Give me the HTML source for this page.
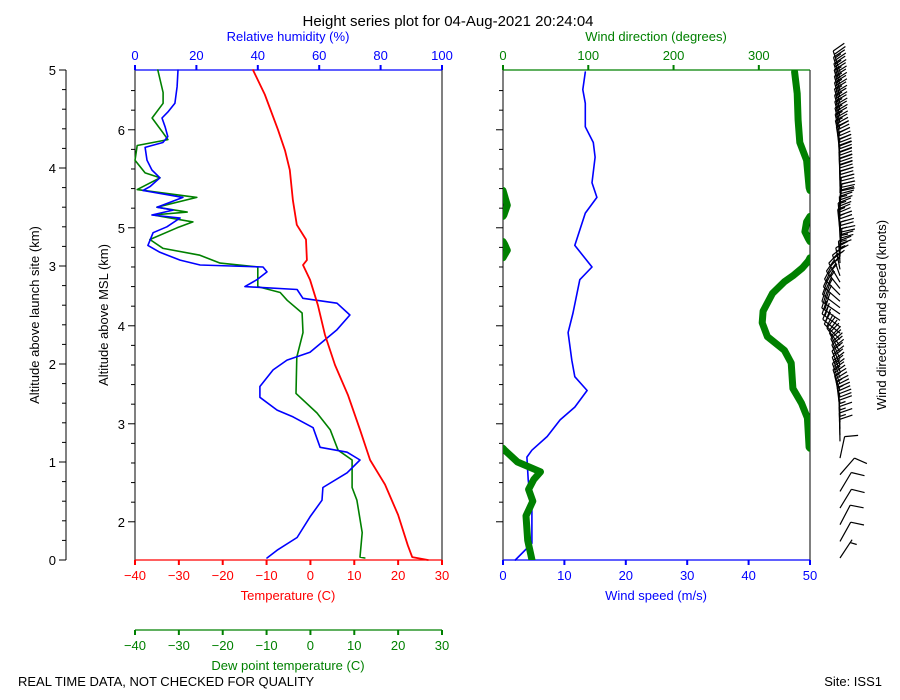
<!DOCTYPE html>
<html><head><meta charset="utf-8"><style>
html,body{margin:0;padding:0;background:#fff}
svg{display:block;font-family:"Liberation Sans","DejaVu Sans",sans-serif}
</style></head><body>
<svg id="chart" width="900" height="700" viewBox="0 0 900 700">
<text x="448" y="26" font-size="15" text-anchor="middle">Height series plot for 04-Aug-2021 20:24:04</text>
<text x="18" y="686" font-size="13">REAL TIME DATA, NOT CHECKED FOR QUALITY</text>
<text x="882" y="686" font-size="13" text-anchor="end">Site: ISS1</text>
<g id="g"></g>
</svg>
<script>
// ---- data (altitude above launch site, km) ----
const tempAlt=[0,0.03,0.15,0.46,0.77,1.02,1.33,1.68,1.99,2.30,2.60,2.86,3.01,3.06,3.27,3.42,3.67,3.98,4.18,4.39,4.75,5.0];
const tempVal=[26.8,23.2,22.2,20.0,17.0,13.6,11.3,8.6,5.6,3.3,1.7,-0.1,-1.7,-0.8,-1.0,-3.1,-4.0,-4.7,-5.8,-7.4,-10.4,-13.1];
const dewAlt=[0.02,0.03,0.28,0.61,0.74,1.02,1.12,1.33,1.50,1.70,2.07,2.32,2.52,2.65,2.73,2.79,2.99,3.03,3.11,3.18,3.27,3.39,3.45,3.52,3.55,3.60,3.70,3.78,3.90,3.95,4.08,4.23,4.29,4.37,4.51,4.66,4.77,5.0];
const dewVal=[12.4,11.3,11.8,10.6,9.5,9.5,6.3,4.5,1.5,-3.3,-3.1,-1.7,-1.9,-5.3,-6.9,-12.0,-12.0,-20.6,-25.2,-33.6,-36.6,-30.4,-26.8,-35.9,-28.1,-35.0,-25.9,-39.5,-34.3,-37.7,-40,-39.5,-32.5,-33.8,-36.1,-33.6,-33.6,-34.8];
const rhAlt=[0.02,0.10,0.23,0.44,0.61,0.74,0.89,1.02,1.10,1.15,1.35,1.46,1.53,1.66,1.77,1.94,2.04,2.12,2.35,2.50,2.62,2.67,2.76,2.79,2.86,2.94,2.99,3.01,3.06,3.14,3.21,3.34,3.40,3.49,3.52,3.57,3.60,3.70,3.77,3.81,3.90,3.98,4.08,4.21,4.26,4.32,4.42,4.51,4.57,4.66,4.83,5.0];
const rhVal=[43.0,46.3,52.8,57.0,60.9,61.2,69.1,73.3,69.1,60.3,58.0,51.5,46.3,40.7,40.7,45.0,49.5,57.0,65.8,70.0,65.8,54.7,52.8,35.8,39.7,43.0,41.7,21.2,14.7,8.1,4.2,5.9,10.4,14.7,5.5,12.4,7.2,15.6,2.6,4.9,8.1,5.5,3.9,3.3,9.1,10.7,9.8,8.8,10.7,13.0,13.7,14.0];
const windAlt=[0,0.17,0.51,0.82,1.05,1.12,1.26,1.43,1.56,1.73,1.87,2.04,2.32,2.52,2.86,2.99,3.21,3.54,3.70,3.85,4.11,4.26,4.42,4.66,4.80,4.98];
const windSpd=[2.0,4.7,4.7,4.1,3.9,4.7,7.2,9.3,11.7,13.7,11.7,11.2,10.6,11.4,12.5,14.5,11.7,13.4,15.3,14.5,15.0,14.7,13.4,13.4,13.0,13.4];
const dirAlt=[0,0.2,0.45,0.6,0.72,0.82,0.9,1.0,1.12,1.15,1.45,1.60,1.75,2.01,2.14,2.28,2.42,2.54,2.72,2.84,2.90,2.98,3.05,3.10,3.16,3.22,3.28,3.35,3.45,3.52,3.62,3.74,3.80,4.08,4.26,4.49,4.76,4.98];
const dirVal=[34,29,27,35,30,36,44,17,2,359,357,350,340,338,330,310,304,305,316,330,340,351,358,1,5,2,358,354,356,1,5,1,359,356,348,346,345,342];
const yTicksAGL=[0,1,2,3,4,5];
const yTicksMSL=[2,3,4,5,6];
const tTicks=[-40,-30,-20,-10,0,10,20,30];
const rhTicks=[0,20,40,60,80,100];
const spdTicks=[0,10,20,30,40,50];
const dirTicks=[0,100,200,300];
const siteElev=1.61;

const NS='http://www.w3.org/2000/svg';
const G=document.getElementById('g');
function el(tag,attrs,txt){const e=document.createElementNS(NS,tag);for(const k in attrs)e.setAttribute(k,attrs[k]);if(txt!=null)e.textContent=txt;G.appendChild(e);return e;}
const Y0=560,Y1=70;
const yS=a=>Y0-(a/5)*(Y0-Y1);
const L0=135,L1=442,R0=503,R1=810;
const xT=t=>L0+(t+40)/70*(L1-L0);
const xRH=r=>L0+r/100*(L1-L0);
const xSp=s=>R0+s/50*(R1-R0);
const xDir=d=>R0+d/360*(R1-R0);

let e=el('line',{x1:66,y1:Y1,x2:66,y2:Y0,stroke:'#000','stroke-width':1});

for(let a=0;a<=5.001;a+=0.2){const maj=Math.abs(a-Math.round(a))<1e-6;
 e=el('line',{x1:66,x2:maj?59:62,y1:yS(a),y2:yS(a),stroke:'#000'});}
yTicksAGL.forEach(v=>{e=el('text',{x:56,y:yS(v)+5,'font-size':13,'text-anchor':'end'},String(v));
 });
e=el('text',{x:0,y:0,'font-size':13,'text-anchor':'middle',transform:'translate(39,315) rotate(-90)'},'Altitude above launch site (km)');


function mslTicks(x0){
 for(let m=2;m<=6.6;m+=0.2){const a=m-siteElev;if(a<0||a>5)continue;const maj=Math.abs(m-Math.round(m))<1e-6;
  e=el('line',{x1:x0,x2:x0-(maj?7:4),y1:yS(a),y2:yS(a),stroke:'#000'});}
}
mslTicks(L0);mslTicks(R0);
yTicksMSL.forEach(v=>{e=el('text',{x:125,y:yS(v-siteElev)+5,'font-size':13,'text-anchor':'end'},String(v));
 });
e=el('text',{x:0,y:0,'font-size':13,'text-anchor':'middle',transform:'translate(108,315) rotate(-90)'},'Altitude above MSL (km)');


e=el('line',{x1:L0,y1:Y1,x2:L0,y2:Y0,stroke:'#000'});
e=el('line',{x1:L1,y1:Y1,x2:L1,y2:Y0,stroke:'#000'});
e=el('line',{x1:L0,y1:Y1,x2:L1,y2:Y1,stroke:'#00f','stroke-width':1.2});
e=el('line',{x1:L0,y1:Y0,x2:L1,y2:Y0,stroke:'#f00','stroke-width':1.2});
e=el('line',{x1:L0,y1:630,x2:L1,y2:630,stroke:'#008000','stroke-width':1.2});

function xticks(vals,fx,y,dir,color,name){
 vals.forEach(v=>{const x=fx(v);
  e=el('line',{x1:x,x2:x,y1:y,y2:y+dir*5,stroke:color,'stroke-width':2});
  const lbl=String(v).replace('-','\u2212');
  e=el('text',{x:x,y:dir>0?y+20:y-10,'font-size':13,'text-anchor':'middle',fill:color},lbl);
  });
}
xticks(tTicks,xT,Y0,1,'#f00','temp');
xticks(tTicks,xT,630,1,'#008000','dewpoint');
xticks(rhTicks,xRH,Y1,-1,'#00f','rh');
xticks(spdTicks,xSp,Y0,1,'#00f','wind-speed');
xticks(dirTicks,xDir,Y1,-1,'#008000','wind-dir');
function title(x,y,t,c,n){e=el('text',{x:x,y:y,'font-size':13,'text-anchor':'middle',fill:c},t);}
title(288,600,'Temperature (C)','#f00','temp-axis-title');
title(288,670,'Dew point temperature (C)','#008000','dewpoint-axis-title');
title(288,41,'Relative humidity (%)','#00f','rh-axis-title');
title(656,600,'Wind speed (m/s)','#00f','wind-speed-axis-title');
title(656,41,'Wind direction (degrees)','#008000','wind-dir-axis-title');
e=el('text',{x:0,y:0,'font-size':13,'text-anchor':'middle',transform:'translate(886,315) rotate(-90)'},'Wind direction and speed (knots)');


e=el('line',{x1:R0,y1:Y1,x2:R0,y2:Y0,stroke:'#000'});
e=el('line',{x1:R1,y1:Y1,x2:R1,y2:Y0,stroke:'#000'});
e=el('line',{x1:R0,y1:Y1,x2:R1,y2:Y1,stroke:'#008000','stroke-width':1.2});
e=el('line',{x1:R0,y1:Y0,x2:R1,y2:Y0,stroke:'#00f','stroke-width':1.2});

function clamp(x,a,b){return Math.max(a,Math.min(b,x));}
function line(alts,vals,fx,color,w,name,x0,x1){
 const pts=alts.map((a,i)=>clamp(fx(vals[i]),x0,x1).toFixed(1)+','+yS(a).toFixed(1)).join(' ');
 e=el('polyline',{points:pts,fill:'none',stroke:color,'stroke-width':w,'stroke-linejoin':'round','stroke-linecap':'round'});
 
}
line(dewAlt,dewVal,xT,'#008000',1.6,'dewpoint-line',L0,L1);
line(rhAlt,rhVal,xRH,'#00f',1.6,'rh-line',L0,L1);
line(tempAlt,tempVal,xT,'#f00',1.8,'temperature-line',L0,L1);
line(windAlt,windSpd,xSp,'#00f',1.6,'wind-speed-line',R0,R1);

(function(){
 let segs=[[]];
 for(let i=0;i<dirAlt.length;i++){
  if(i>0){const d0=dirVal[i-1],d1=dirVal[i];
   if(Math.abs(d1-d0)>180){
    const d1u=d1>d0?d1-360:d1+360;const edge=d1>d0?0:360;
    const f=(edge-d0)/(d1u-d0);const a=dirAlt[i-1]+f*(dirAlt[i]-dirAlt[i-1]);
    segs[segs.length-1].push([edge,a]);segs.push([[360-edge,a]]);
   }}
  segs[segs.length-1].push([dirVal[i],dirAlt[i]]);
 }
 segs.forEach(s=>{
  e=el('polyline',{points:s.map(p=>xDir(p[0]).toFixed(1)+','+yS(p[1]).toFixed(1)).join(' '),fill:'none',stroke:'#008000','stroke-width':7,'stroke-linejoin':'round','stroke-linecap':'round','clip-path':'url(#rclip)'});
  
 });
})();
const defs=document.createElementNS(NS,'defs');defs.innerHTML='<clipPath id="rclip"><rect x="503" y="70" width="307" height="490"/></clipPath>';document.getElementById('chart').appendChild(defs);

function interp(xs,ys,x){for(let i=1;i<xs.length;i++){if(x<=xs[i]){const f=(x-xs[i-1])/(xs[i]-xs[i-1]);return ys[i-1]+f*(ys[i]-ys[i-1]);}}return ys[ys.length-1];}
function interpDir(x){for(let i=1;i<dirAlt.length;i++){if(x<=dirAlt[i]){let d0=dirVal[i-1],d1=dirVal[i];if(d1-d0>180)d1-=360;if(d0-d1>180)d1+=360;const f=(x-dirAlt[i-1])/(dirAlt[i]-dirAlt[i-1]);return (d0+f*(d1-d0)+360)%360;}}return dirVal[dirVal.length-1];}
const bx=840;
let a=0.02;
while(a<=5){
 const kt=interp(windAlt,windSpd,a)*1.944;const d=interpDir(a)*Math.PI/180;
 const ux=Math.sin(d),uy=-Math.cos(d);const px=-uy,py=ux;
 const y=yS(a),L=22;
 const tx=bx+ux*L,ty=y+uy*L;
 let path='M'+bx+','+y.toFixed(1)+' L'+tx.toFixed(1)+','+ty.toFixed(1);
 let n=Math.round(kt/5)*5,pos=0;
 const full=Math.floor(n/10),half=(n%10)>=5;
 for(let k=0;k<full;k++){const sx=tx-ux*pos,sy=ty-uy*pos;path+=' M'+sx.toFixed(1)+','+sy.toFixed(1)+' L'+(sx+px*13+ux*4).toFixed(1)+','+(sy+py*13+uy*4).toFixed(1);pos+=3.5;}
 if(half){if(full===0)pos=3.5;const sx=tx-ux*pos,sy=ty-uy*pos;path+=' M'+sx.toFixed(1)+','+sy.toFixed(1)+' L'+(sx+px*6.5+ux*2).toFixed(1)+','+(sy+py*6.5+uy*2).toFixed(1);}
 e=el('path',{d:path,fill:'none',stroke:'#000','stroke-width':1.2});
 
 a+= a<1.2?0.17:0.065;
}
</script>
</body></html>
